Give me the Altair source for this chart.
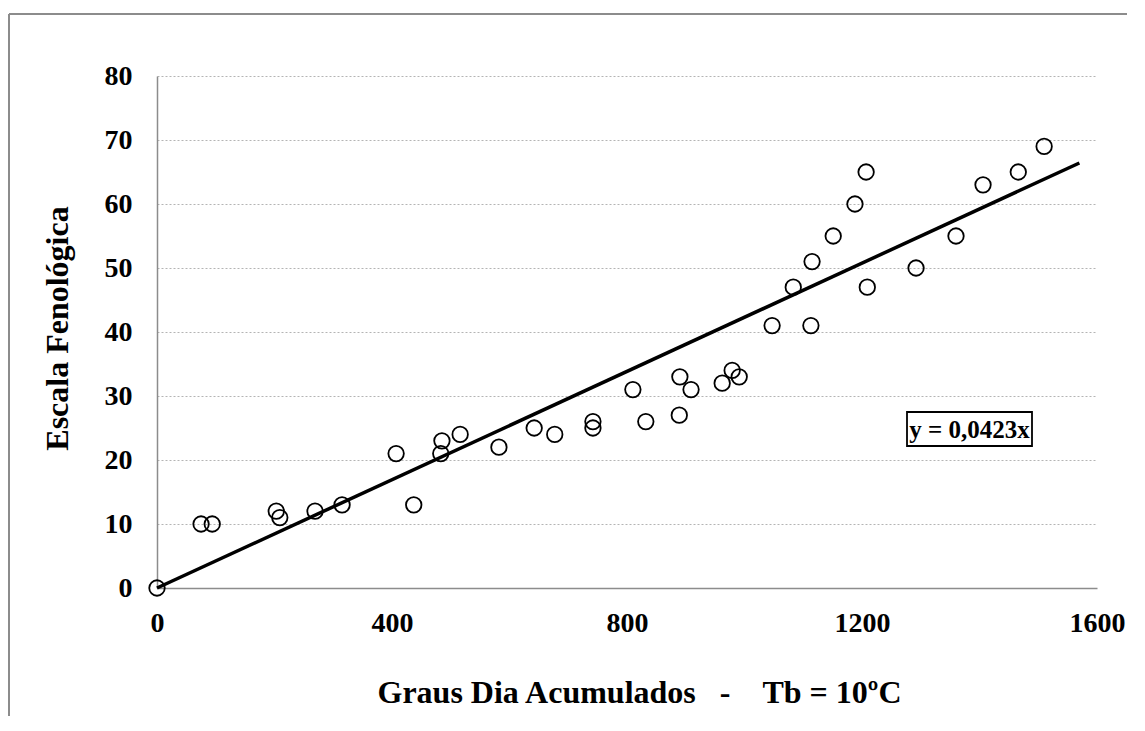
import altair as alt
import pandas as pd

# Observed points (Graus Dia Acumulados, Escala Fenológica)
gda = [0, 75, 94, 203, 209, 269, 315, 407, 437, 483, 485, 516, 582, 642, 677,
       742, 742, 810, 832, 889, 890, 909, 962, 979, 991, 1047, 1113, 1083, 1115,
       1151, 1188, 1207, 1209, 1292, 1360, 1406, 1466, 1510]
escala = [0, 10, 10, 12, 11, 12, 13, 21, 13, 21, 23, 24, 22, 25, 24,
          25, 26, 31, 26, 27, 33, 31, 32, 34, 33, 41, 41, 47, 51,
          55, 60, 65, 47, 50, 55, 63, 65, 69]

# Linear trend through origin: y = 0.0423x
slope = 0.0423
trend_x = [0, 1570]
trend_y = [slope * v for v in trend_x]

x_ticks = [0, 400, 800, 1200, 1600]
y_ticks = [0, 10, 20, 30, 40, 50, 60, 70, 80]
equation = "y = 0,0423x"

FONT = "Liberation Serif"
W, H = 940, 512
PAD_L, PAD_T, PAD_R, PAD_B = 149, 68, 30, 128

pts = pd.DataFrame({"x": gda, "y": escala})
trend = pd.DataFrame({"x": trend_x, "y": trend_y})

xscale = alt.Scale(domain=[0, 1600], nice=False, zero=False)
yscale = alt.Scale(domain=[0, 80], nice=False, zero=False)

x_axis = alt.Axis(
    values=x_ticks, format="d", grid=False, ticks=False, labelPadding=21,
    labelFlush=False, labelOverlap=False,
    labelFontSize=28, labelFont=FONT, labelFontWeight="bold", labelColor="black",
    domainColor="#8c8c8c", domainWidth=1.5,
    title="Graus Dia Acumulados\u00a0\u00a0\u00a0-\u00a0\u00a0\u00a0\u00a0Tb = 10ºC",
    titleFont=FONT, titleFontSize=32, titleFontWeight="bold", titleColor="black",
    titleX=482, titleY=104, titleBaseline="middle", titleAlign="center",
)
y_axis = alt.Axis(
    values=y_ticks, format="d", grid=True, gridColor="#b4b4b4", gridDash=[2, 2],
    gridWidth=1, ticks=False, labelPadding=25, labelFlush=False, labelOverlap=False,
    labelFontSize=28, labelFont=FONT, labelFontWeight="bold", labelColor="black",
    domainColor="#8c8c8c", domainWidth=1.5,
    title="Escala Fenológica", titleFont=FONT, titleFontSize=32,
    titleFontWeight="bold", titleColor="black",
    titleX=-100, titleY=252, titleBaseline="middle", titleAngle=-90, titleAlign="center",
)

points = alt.Chart(pts).mark_point(
    shape="circle", filled=False, color="black", strokeWidth=1.8, size=240, opacity=1
).encode(
    x=alt.X("x:Q", scale=xscale, axis=x_axis),
    y=alt.Y("y:Q", scale=yscale, axis=y_axis),
)

line = alt.Chart(trend).mark_line(color="black", strokeWidth=3.5).encode(
    x=alt.X("x:Q", scale=xscale),
    y=alt.Y("y:Q", scale=yscale),
)

box = alt.Chart(pd.DataFrame({"t": [equation]})).mark_rect(
    fill="white", stroke="black", strokeWidth=1.8
).encode(
    x=alt.value(750), x2=alt.value(875), y=alt.value(336), y2=alt.value(370)
)
eq_text = alt.Chart(pd.DataFrame({"t": [equation]})).mark_text(
    font=FONT, fontSize=25, fontWeight="bold", color="black",
    align="center", baseline="middle"
).encode(
    text="t:N", x=alt.value(812.5), y=alt.value(354)
)

# outer chart-area border (top and left edges visible)
border_top = alt.Chart(pd.DataFrame({"t": [0]})).mark_rule(
    color="#8c8c8c", strokeWidth=2
).encode(x=alt.value(-148), x2=alt.value(W + PAD_R), y=alt.value(-62))
border_left = alt.Chart(pd.DataFrame({"t": [0]})).mark_rule(
    color="#8c8c8c", strokeWidth=2
).encode(x=alt.value(-148), y=alt.value(-62), y2=alt.value(H + PAD_B))

chart = alt.layer(
    border_top, border_left, line, points, box, eq_text
).properties(
    width=W, height=H,
    autosize=alt.AutoSizeParams(type="none"),
    padding={"left": PAD_L, "top": PAD_T, "right": PAD_R, "bottom": PAD_B},
    background="white",
).configure_view(stroke=None)

chart.save("out.html", embed_options={"renderer": "svg", "actions": False})
